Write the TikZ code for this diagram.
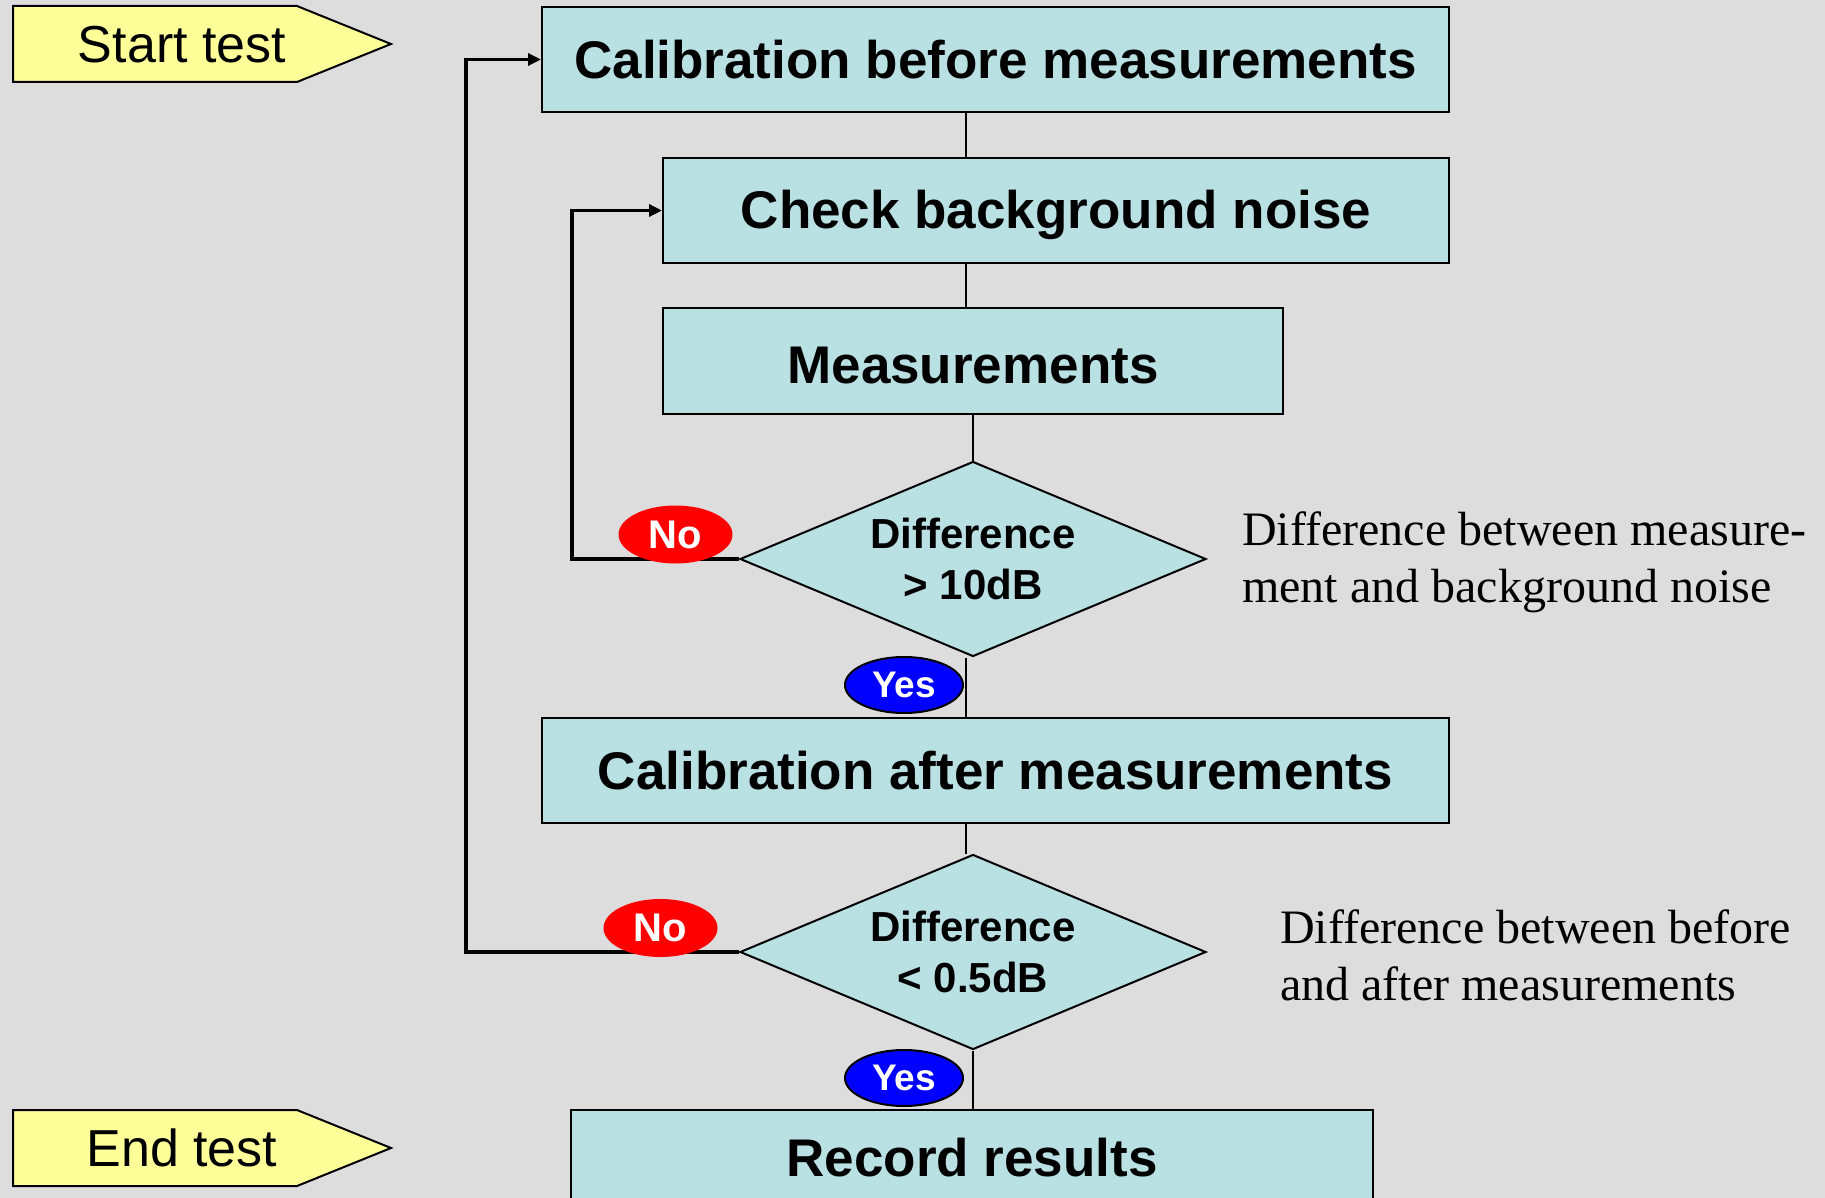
\documentclass[tikz,border=0pt]{standalone}
\usepackage{fontspec}
\setmainfont{Liberation Serif}
\setsansfont{Liberation Sans}
\usetikzlibrary{shapes.geometric,arrows.meta}
\definecolor{bg}{RGB}{221,221,221}
\definecolor{boxfill}{RGB}{185,224,227}
\definecolor{flagfill}{RGB}{255,255,153}
\definecolor{noRed}{RGB}{255,0,0}
\definecolor{yesBlue}{RGB}{0,0,255}
\tikzset{
  procbox/.style={draw=black, line width=2pt, fill=boxfill, inner sep=0pt,
    font=\sffamily\bfseries\fontsize{53}{60}\selectfont},
  decision/.style={diamond, draw=black, line width=2pt, fill=boxfill, inner sep=0pt,
    aspect=2.39, minimum width=466pt, minimum height=195pt, align=center,
    font=\sffamily\bfseries\fontsize{42}{51}\selectfont},
  flag/.style={draw=black, line width=2pt, fill=flagfill},
  flagtext/.style={font=\sffamily\fontsize{52}{60}\selectfont, inner sep=0pt},
  conn/.style={draw=black, line width=2.5pt},
  loopline/.style={draw=black, line width=3.5pt, -{Triangle[length=13pt,width=12pt]}},
  nobadge/.style={ellipse, fill=noRed, minimum width=114pt, minimum height=58pt, inner sep=0pt,
    text=white, font=\sffamily\bfseries\fontsize{40}{44}\selectfont},
  yesbadge/.style={ellipse, draw=black, line width=2pt, fill=yesBlue, minimum width=118pt, minimum height=56pt, inner sep=0pt,
    text=white, font=\sffamily\bfseries\fontsize{37}{40}\selectfont},
  note/.style={anchor=west, align=left, inner sep=0pt,
    font=\rmfamily\fontsize{48}{57}\selectfont}
}
\begin{document}
\begin{tikzpicture}[x=1pt,y=-1pt]
\fill[bg] (0,0) rectangle (1825,1198);
\useasboundingbox (0,0) rectangle (1825,1198);

% flags
\path[flag] (13,6) -- (297,6) -- (391,44) -- (297,82) -- (13,82) -- cycle;
\node[flagtext] (start) at (182,45) {Start test};
\path[flag] (13,1110) -- (297,1110) -- (391,1148) -- (297,1186) -- (13,1186) -- cycle;
\node[flagtext] (endt) at (182,1148) {End test};

% process boxes
\node[procbox, minimum width=907pt, minimum height=105pt] (calb) at (995.5,59.5) {Calibration before measurements};
\node[procbox, minimum width=786pt, minimum height=105pt, text height=38.6pt, text depth=2pt] (check) at (1056,210.5) {Check background noise};
\node[procbox, minimum width=620pt, minimum height=106pt, text height=45pt, text depth=0pt] (meas) at (973,361) {Measurements};
\node[decision] (d1) at (973,559) {Difference\\> 10dB};
\node[procbox, minimum width=907pt, minimum height=105pt] (cala) at (995.5,770.5) {Calibration after measurements};
\node[decision] (d2) at (973,952) {Difference\\< 0.5dB};
\node[procbox, minimum width=802pt, minimum height=96pt] (rec) at (972,1158) {Record results};

\coordinate (spine) at (966,0);

% straight connectors
\draw[conn] (calb.south -| spine) -- (check.north -| spine);
\draw[conn] (check.south -| spine) -- (meas.north -| spine);
\draw[conn] (meas.south -| d1.north) -- (d1.north);
\draw[conn] (d1.south -| spine) -- (cala.north -| spine);
\draw[conn] (cala.south -| spine) -- (d2.north -| spine);
\draw[conn] (d2.south) -- (rec.north -| d2.south);

% feedback loops
\coordinate (loopA) at (572,0);
\coordinate (loopB) at (466,0);
\draw[loopline] (d1.west) -- (d1.west -| loopA) |- (check.west);
\draw[loopline] (d2.west) -- (d2.west -| loopB) |- (calb.west);

% badges
\node[nobadge] (no1) at (675.5,534.5) {No};
\node[yesbadge] (yes1) at (904,685) {Yes};
\node[nobadge] (no2) at (660.5,928) {No};
\node[yesbadge] (yes2) at (904,1078) {Yes};

% notes
\node[note] (n1) at (1242,562) {Difference between measure-\\ment and background noise};
\node[note] (n2) at (1280,955) {Difference between before\\and after measurements};
\end{tikzpicture}
\end{document}
